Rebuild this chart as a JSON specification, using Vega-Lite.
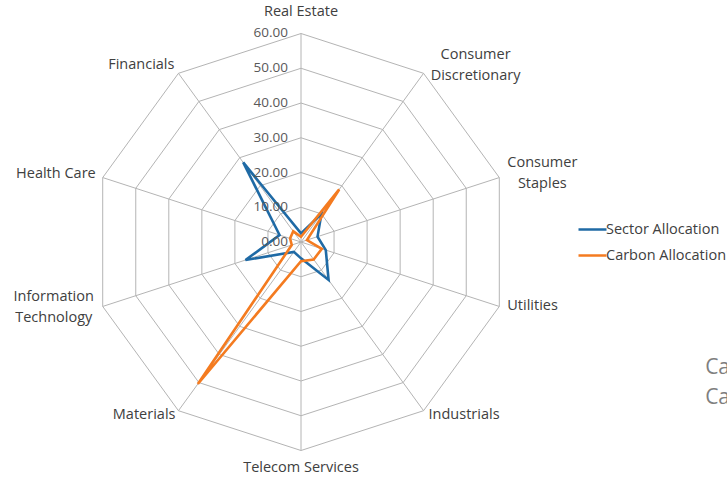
{
  "$schema": "https://vega.github.io/schema/vega-lite/v6.json",
  "width": 727,
  "height": 478,
  "padding": 0,
  "autosize": {"type": "none"},
  "background": "white",
  "config": {"view": {"stroke": null}, "text": {"font": "Open Sans"}},
  "datasets": {
    "alloc": [
      {"sector": "Real Estate", "idx": 0, "series": "Sector Allocation", "value": 2.5},
      {"sector": "Consumer Discretionary", "idx": 1, "series": "Sector Allocation", "value": 10},
      {"sector": "Consumer Staples", "idx": 2, "series": "Sector Allocation", "value": 5},
      {"sector": "Utilities", "idx": 3, "series": "Sector Allocation", "value": 7.5},
      {"sector": "Industrials", "idx": 4, "series": "Sector Allocation", "value": 13.5},
      {"sector": "Telecom Services", "idx": 5, "series": "Sector Allocation", "value": 4.7},
      {"sector": "Materials", "idx": 6, "series": "Sector Allocation", "value": 3.5},
      {"sector": "Information Technology", "idx": 7, "series": "Sector Allocation", "value": 16.8},
      {"sector": "Health Care", "idx": 8, "series": "Sector Allocation", "value": 6.5},
      {"sector": "Financials", "idx": 9, "series": "Sector Allocation", "value": 28.3},
      {"sector": "Real Estate", "idx": 0, "series": "Carbon Allocation", "value": 1.5},
      {"sector": "Consumer Discretionary", "idx": 1, "series": "Carbon Allocation", "value": 18.7},
      {"sector": "Consumer Staples", "idx": 2, "series": "Carbon Allocation", "value": 1.8},
      {"sector": "Utilities", "idx": 3, "series": "Carbon Allocation", "value": 6.3},
      {"sector": "Industrials", "idx": 4, "series": "Carbon Allocation", "value": 6.2},
      {"sector": "Telecom Services", "idx": 5, "series": "Carbon Allocation", "value": 5.5},
      {"sector": "Materials", "idx": 6, "series": "Carbon Allocation", "value": 50.5},
      {"sector": "Information Technology", "idx": 7, "series": "Carbon Allocation", "value": 2.8},
      {"sector": "Health Care", "idx": 8, "series": "Carbon Allocation", "value": 3.3},
      {"sector": "Financials", "idx": 9, "series": "Carbon Allocation", "value": 3.8}
    ],
    "rings": [
      {"level": 10, "k": [0, 1, 2, 3, 4, 5, 6, 7, 8, 9]},
      {"level": 20, "k": [0, 1, 2, 3, 4, 5, 6, 7, 8, 9]},
      {"level": 30, "k": [0, 1, 2, 3, 4, 5, 6, 7, 8, 9]},
      {"level": 40, "k": [0, 1, 2, 3, 4, 5, 6, 7, 8, 9]},
      {"level": 50, "k": [0, 1, 2, 3, 4, 5, 6, 7, 8, 9]},
      {"level": 60, "k": [0, 1, 2, 3, 4, 5, 6, 7, 8, 9]}
    ],
    "ticks": [
      {"tick": 0}, {"tick": 10}, {"tick": 20}, {"tick": 30}, {"tick": 40}, {"tick": 50}, {"tick": 60}
    ],
    "notes": [
      {"note": "Ca", "row": 0},
      {"note": "Ca", "row": 1}
    ]
  },
  "encoding": {
    "x": {"field": "px", "type": "quantitative", "scale": {"domain": [-86.62, 122.59], "nice": false, "zero": false}, "axis": null},
    "y": {"field": "py", "type": "quantitative", "scale": {"domain": [-67.91, 69.64], "nice": false, "zero": false}, "axis": null}
  },
  "layer": [
    {
      "data": {"name": "rings"},
      "transform": [
        {"flatten": ["k"]},
        {"calculate": "datum.level * sin(datum.k * PI / 5)", "as": "px"},
        {"calculate": "datum.level * cos(datum.k * PI / 5)", "as": "py"}
      ],
      "mark": {"type": "line", "interpolate": "linear-closed", "color": "#b4b4b4", "strokeWidth": 1},
      "encoding": {
        "detail": {"field": "level", "type": "nominal"},
        "order": {"field": "k", "type": "quantitative"}
      }
    },
    {
      "data": {"name": "alloc"},
      "transform": [
        {"filter": "datum.series == 'Sector Allocation'"},
        {"calculate": "60 * sin(datum.idx * PI / 5)", "as": "px"},
        {"calculate": "60 * cos(datum.idx * PI / 5)", "as": "py"},
        {"calculate": "0", "as": "c0"}
      ],
      "mark": {"type": "rule", "color": "#b4b4b4", "strokeWidth": 1},
      "encoding": {
        "x2": {"field": "c0"},
        "y2": {"field": "c0"}
      }
    },
    {
      "data": {"name": "alloc"},
      "transform": [
        {"calculate": "datum.value * sin(datum.idx * PI / 5)", "as": "px"},
        {"calculate": "datum.value * cos(datum.idx * PI / 5)", "as": "py"}
      ],
      "mark": {"type": "line", "interpolate": "linear-closed", "strokeWidth": 2.6},
      "encoding": {
        "color": {
          "field": "series",
          "type": "nominal",
          "scale": {"domain": ["Sector Allocation", "Carbon Allocation"], "range": ["#1f6aa5", "#f47b20"]},
          "legend": {
            "orient": "none",
            "legendX": 577,
            "legendY": 214,
            "title": null,
            "symbolType": "stroke",
            "symbolSize": 784,
            "symbolStrokeWidth": 2.5,
            "labelFontSize": 14.5,
            "labelFont": "Open Sans",
            "labelColor": "#404040",
            "rowPadding": 4,
            "labelOffset": -2,
            "padding": 0
          }
        },
        "order": {"field": "idx", "type": "quantitative"}
      }
    },
    {
      "data": {"name": "ticks"},
      "transform": [
        {"calculate": "0", "as": "px"},
        {"calculate": "datum.tick", "as": "py"}
      ],
      "mark": {"type": "text", "align": "right", "baseline": "middle", "dx": -13, "fontSize": 13.5, "color": "#595959"},
      "encoding": {"text": {"field": "tick", "type": "quantitative", "format": ".2f"}}
    },
    {
      "data": {"name": "alloc"},
      "transform": [
        {"filter": "datum.series == 'Sector Allocation'"},
        {"calculate": "60 * sin(datum.idx * PI / 5)", "as": "px"},
        {"calculate": "60 * cos(datum.idx * PI / 5)", "as": "py"}
      ],
      "layer": [
        {
          "transform": [{"filter": "datum.idx == 0"}],
          "mark": {"type": "text", "align": "center", "baseline": "middle", "dy": -21, "fontSize": 14.5, "color": "#404040"},
          "encoding": {"text": {"field": "sector"}}
        },
        {
          "transform": [{"filter": "datum.idx == 1"}],
          "mark": {"type": "text", "align": "center", "baseline": "middle", "dx": 52, "dy": -18, "lineBreak": " ", "lineHeight": 20.5, "fontSize": 14.5, "color": "#404040"},
          "encoding": {"text": {"field": "sector"}}
        },
        {
          "transform": [{"filter": "datum.idx == 2"}],
          "mark": {"type": "text", "align": "center", "baseline": "middle", "dx": 43, "dy": -15, "lineBreak": " ", "lineHeight": 21, "fontSize": 14.5, "color": "#404040"},
          "encoding": {"text": {"field": "sector"}}
        },
        {
          "transform": [{"filter": "datum.idx == 3"}],
          "mark": {"type": "text", "align": "left", "baseline": "middle", "dx": 8, "dy": 0, "fontSize": 14.5, "color": "#404040"},
          "encoding": {"text": {"field": "sector"}}
        },
        {
          "transform": [{"filter": "datum.idx == 4"}],
          "mark": {"type": "text", "align": "left", "baseline": "middle", "dx": 5, "dy": 4, "fontSize": 14.5, "color": "#404040"},
          "encoding": {"text": {"field": "sector"}}
        },
        {
          "transform": [{"filter": "datum.idx == 5"}],
          "mark": {"type": "text", "align": "center", "baseline": "middle", "dy": 17, "fontSize": 14.5, "color": "#404040"},
          "encoding": {"text": {"field": "sector"}}
        },
        {
          "transform": [{"filter": "datum.idx == 6"}],
          "mark": {"type": "text", "align": "right", "baseline": "middle", "dx": -3, "dy": 4, "fontSize": 14.5, "color": "#404040"},
          "encoding": {"text": {"field": "sector"}}
        },
        {
          "transform": [{"filter": "datum.idx == 7"}],
          "mark": {"type": "text", "align": "center", "baseline": "middle", "dx": -49, "dy": -9, "lineBreak": " ", "lineHeight": 21, "fontSize": 14.5, "color": "#404040"},
          "encoding": {"text": {"field": "sector"}}
        },
        {
          "transform": [{"filter": "datum.idx == 8"}],
          "mark": {"type": "text", "align": "right", "baseline": "middle", "dx": -7, "dy": -4, "fontSize": 14.5, "color": "#404040"},
          "encoding": {"text": {"field": "sector"}}
        },
        {
          "transform": [{"filter": "datum.idx == 9"}],
          "mark": {"type": "text", "align": "right", "baseline": "middle", "dx": -4, "dy": -8, "fontSize": 14.5, "color": "#404040"},
          "encoding": {"text": {"field": "sector"}}
        }
      ]
    },
    {
      "data": {"name": "notes"},
      "transform": [
        {"calculate": "116.3", "as": "px"},
        {"calculate": "-36.3 - 8.6 * datum.row", "as": "py"}
      ],
      "mark": {"type": "text", "align": "left", "baseline": "middle", "fontSize": 21, "color": "#7f7f7f"},
      "encoding": {
        "text": {"field": "note"}
      }
    }
  ]
}
